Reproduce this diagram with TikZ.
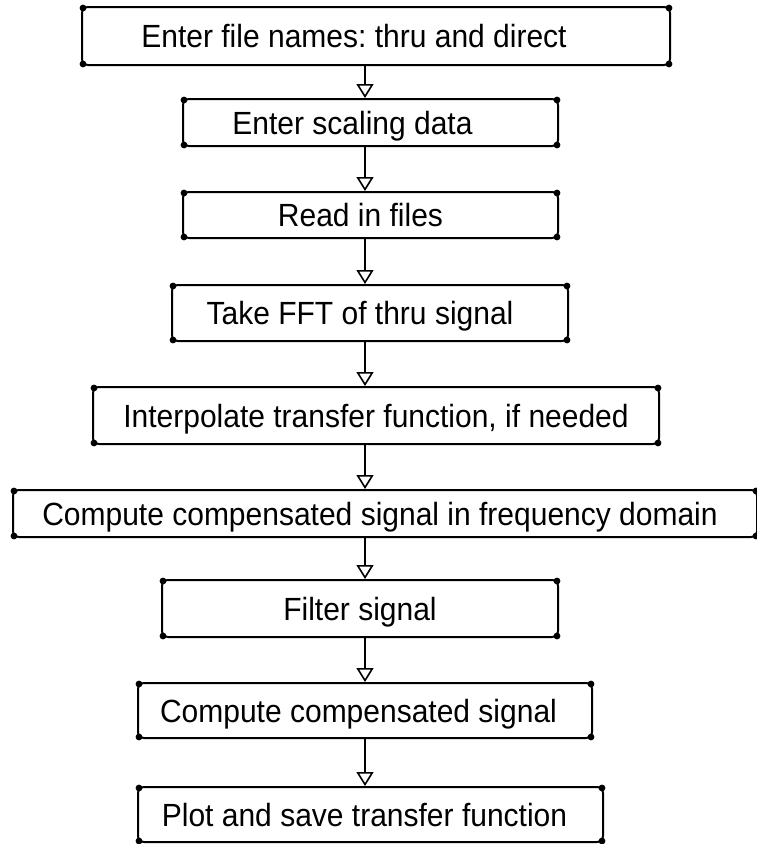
\documentclass[tikz,border=0pt]{standalone}
\usepackage{fontspec}
\usepackage{graphicx}
\setmainfont{Liberation Sans}
\usetikzlibrary{arrows.meta}
\frenchspacing
\newcommand\boxfont{\fontsize{30pt}{36pt}\selectfont}
\newcommand\boxtext[2]{\scalebox{1}[1.07]{#2}\hspace*{#1pt}}
\tikzset{
  flowbox/.style={draw, line width=2pt, rounded corners=6pt, inner sep=0pt,
    font=\boxfont, text height=23pt, text depth=0pt},
  flowarrow/.style={line width=1.6pt, -{Triangle[open, length=14pt, width=17pt, line width=1.6pt]}},
  blob/.style={fill=black}
}
\begin{document}
\begin{tikzpicture}[x=1pt,y=-1pt]
\useasboundingbox (0,0) rectangle (757,844);
\coordinate (ax) at (365,0);
\node[flowbox, minimum width=588pt, minimum height=58pt] (b1) at (376,36) {\boxtext{44}{Enter file names: thru and direct}};
\node[flowbox, minimum width=375pt, minimum height=47pt] (b2) at (370.5,122.5) {\boxtext{36}{Enter scaling data}};
\node[flowbox, minimum width=375pt, minimum height=46pt] (b3) at (370.5,215) {\boxtext{20}{Read in files}};
\node[flowbox, minimum width=396pt, minimum height=56pt] (b4) at (370,313) {\boxtext{20}{Take FFT of thru signal}};
\node[flowbox, minimum width=566pt, minimum height=57pt] (b5) at (376,415.5) {\boxtext{0}{Interpolate transfer function, if needed}};
\node[flowbox, minimum width=744pt, minimum height=47pt] (b6) at (385,513.5) {\boxtext{10}{Compute compensated signal in frequency domain}};
\node[flowbox, minimum width=396pt, minimum height=57pt] (b7) at (360,608.5) {\boxtext{0}{Filter signal}};
\node[flowbox, minimum width=454pt, minimum height=55pt] (b8) at (365,710.5) {\boxtext{13}{Compute compensated signal}};
\node[flowbox, minimum width=465pt, minimum height=55pt] (b9) at (370.5,814.5) {\boxtext{12}{Plot and save transfer function}};
\foreach \n in {b1,b2,b3,b4,b5,b6,b7,b8,b9}{
  \fill[blob] ([xshift=2pt,yshift=-2pt]\n.north west) circle (3.4pt);
  \fill[blob] ([xshift=-2pt,yshift=-2pt]\n.north east) circle (3.4pt);
  \fill[blob] ([xshift=2pt,yshift=2pt]\n.south west) circle (3.4pt);
  \fill[blob] ([xshift=-2pt,yshift=2pt]\n.south east) circle (3.4pt);
}
\foreach \a/\b in {b1/b2,b2/b3,b3/b4,b4/b5,b5/b6,b6/b7,b7/b8,b8/b9}{
  \draw[flowarrow] (\a.south -| ax) -- (\b.north -| ax);
}
\end{tikzpicture}
\end{document}
